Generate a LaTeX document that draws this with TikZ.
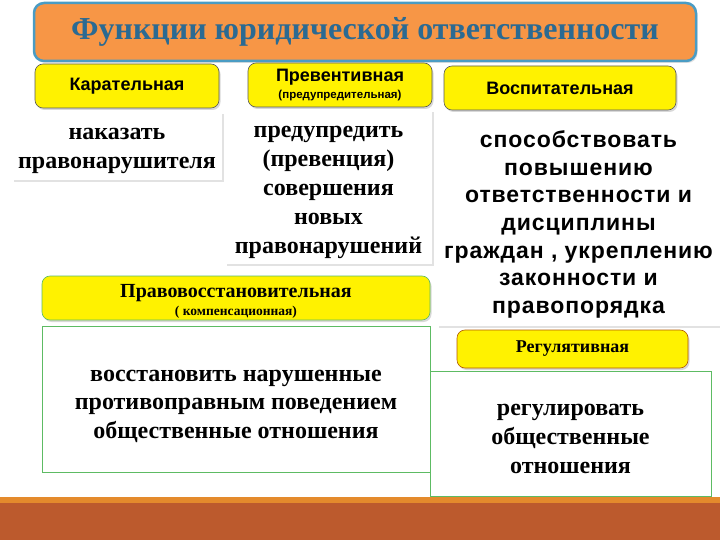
\documentclass[tikz,border=0pt]{standalone}
\usepackage{fontspec}
\setmainfont{Liberation Serif}
\setsansfont{Liberation Sans}
\usetikzlibrary{shadows}
\definecolor{titleorange}{HTML}{F79646}
\definecolor{titleblue}{HTML}{4A9CC4}
\definecolor{titletext}{HTML}{2B6A92}
\definecolor{boxgreen}{HTML}{5DBB63}
\definecolor{bandred}{HTML}{BC5A2D}
\definecolor{bandline}{HTML}{E48A2C}
\begin{document}
\begin{tikzpicture}[x=1pt,y=-1pt]
\tikzstyle{every node}=[inner sep=0pt,align=center,text=black]
\tikzstyle{kind}=[rounded corners=8pt,fill=yellow,draw=gray!70!black,line width=0.6pt,
  drop shadow={shadow xshift=1.5pt,shadow yshift=-2pt,fill=gray!60}]
\tikzstyle{goal}=[fill=white,drop shadow={shadow xshift=2pt,shadow yshift=-2pt,fill=gray!45}]
\tikzstyle{goalgreen}=[fill=white,draw=boxgreen,line width=1pt]
\tikzstyle{serif text}=[font=\bfseries\fontsize{24}{29}\selectfont]
\useasboundingbox (0,0) rectangle (720,540);
% bottom band
\fill[bandline] (0,497) rectangle (720,503);
\fill[bandred] (0,503) rectangle (720,540);
% title
\node[rounded corners=10pt,fill=titleorange,draw=titleblue,line width=2.5pt,
  minimum width=662pt,minimum height=58pt,text=titletext,
  font=\fontsize{32}{32}\selectfont\bfseries,
  drop shadow={shadow xshift=1.5pt,shadow yshift=-2pt,fill=gray!50}]
  (title) at (365,32) {Функции юридической ответственности};
% top row
\node[kind,minimum width=184pt,minimum height=44pt,font=\sffamily\bfseries\fontsize{18}{20}\selectfont]
  (karat) at (127,86) {Карательная};
\node[kind,minimum width=184pt,minimum height=44pt,font=\sffamily\bfseries\fontsize{18}{20}\selectfont]
  (prev) at (340,85) {Превентивная\\[-3pt]{\fontsize{11.5}{13}\selectfont(предупредительная)}};
\node[kind,minimum width=232pt,minimum height=44pt,font=\sffamily\bfseries\fontsize{18}{20}\selectfont]
  (vosp) at (560,88) {Воспитательная};
\node[goal,minimum width=210pt,minimum height=68pt] (karatBox) at (117,146) {};
\node[serif text] (karatText) at ([yshift=-5pt]karatBox.center) {наказать\\правонарушителя};
\node[goal,minimum width=207pt,minimum height=154pt] (prevBox) at (328.5,187) {};
\node[serif text] (prevText) at ([yshift=-5pt]prevBox.center)
  {предупредить\\(превенция)\\совершения\\новых\\правонарушений};
\node[goal,minimum width=283pt,minimum height=211pt] (vospBox) at (578.5,220.5) {};
\node[font=\sffamily\bfseries\fontsize{23}{27.7}\selectfont\addfontfeature{LetterSpace=4}]
  (vospText) at ([yshift=-4pt]vospBox.center) {способствовать\\повышению\\ответственности и\\дисциплины\\граждан , укреплению\\законности и\\правопорядка};
% bottom row
\node[kind,draw=boxgreen,minimum width=388pt,minimum height=44pt] (pravo) at (236,298) {};
\node[font=\bfseries\fontsize{20}{20}\selectfont] (pravoLabel) at ([yshift=-3pt]pravo.center)
  {Правовосстановительная\\[-2pt]{\fontsize{13.5}{14}\selectfont( компенсационная)}};
\node[goalgreen,minimum width=388pt,minimum height=146pt] (pravoBox) at (236,399) {};
\node[serif text,font=\bfseries\fontsize{24}{28.5}\selectfont] (pravoText) at ([yshift=-7pt]pravoBox.center)
  {восстановить нарушенные\\противоправным поведением\\общественные отношения};
\node[goalgreen,minimum width=281pt,minimum height=125pt] (regBox) at (570.5,433.5) {};
\node[serif text] (regText) at ([yshift=-5pt]regBox.center) {регулировать\\общественные\\отношения};
\node[kind,draw=orange!70!black,minimum width=231pt,minimum height=38pt,font=\bfseries\fontsize{18}{18}\selectfont]
  (reg) at (572.5,349) {Регулятивная};
\end{tikzpicture}
\end{document}
